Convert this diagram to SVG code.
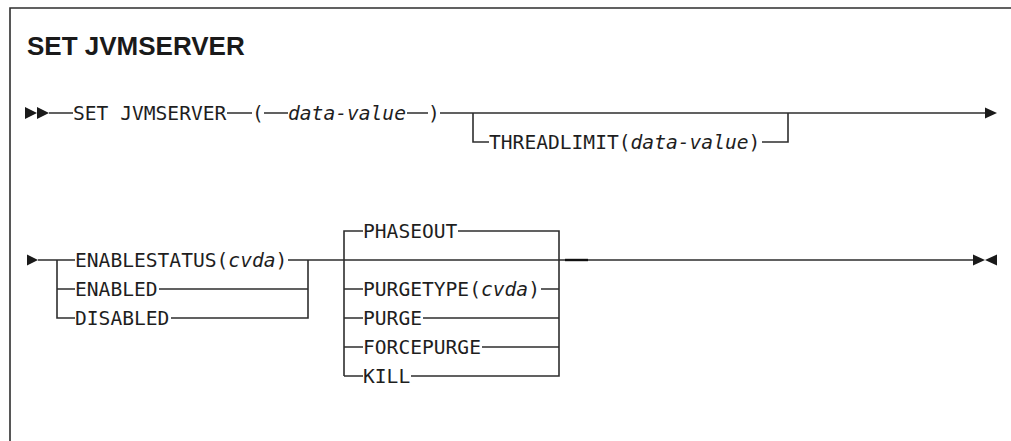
<svg xmlns="http://www.w3.org/2000/svg" width="1011" height="441" viewBox="0 0 1011 441">
<style>
.t{font-family:"DejaVu Sans Mono","Liberation Mono",monospace;font-size:19.6px;fill:#1e1e1e}
.i{font-style:italic}
.ttl{font-family:"Liberation Sans",Arial,sans-serif;font-size:26px;font-weight:bold;fill:#1a1a1a}
.ln{fill:none;stroke:#2e2e2e;stroke-width:1.6}
.ar{fill:#1a1a1a;stroke:none}
</style>
<rect width="1011" height="441" fill="#ffffff"/>
<path class="ln" d="M10,441 V8 H1011"/>
<g id="title"><text class="ttl" x="27" y="55">SET JVMSERVER</text></g>

<g id="connectors">
  <!-- line 1 -->
  <polygon class="ar" points="25,107 37,113 25,119"/>
  <polygon class="ar" points="37,107 49,113 37,119"/>
  <path class="ln" d="M49,113 H73 M227,113 H252 M264,113 H288 M407,113 H428 M440,113 H986"/>
  <polygon class="ar" points="985,107.5 997,113 985,118.5"/>
  <path class="ln" d="M473,113 V142 H489 M762,142 H788 V113"/>
  <!-- line 2 -->
  <polygon class="ar" points="27,254.5 38,260 27,265.5"/>
  <path class="ln" d="M38,260 H75 M57,260 V318 H75 M57,289 H75"/>
  <path class="ln" d="M288,260 H974 M159,289 H308 M171,318 H308 V260"/>
  <path class="ln" d="M344,376 V231 H363 M458,231 H559 V376 H411 M344,289 H363 M344,318 H363 M344,347 H363 M344,376 H363 M541,289 H559 M423,318 H559 M482,347 H559"/>
  <path d="M565,260 H588" stroke="#111" stroke-width="2.4"/>
  <polygon class="ar" points="973,254.5 985,260 973,265.5"/>
  <polygon class="ar" points="997,254.5 985,260 997,265.5"/>
</g>

<g id="cmd"><text class="t" x="73" y="120.2">SET JVMSERVER</text></g>
<g id="lparen"><text class="t" x="252" y="120.2">(</text></g>
<g id="datavalue"><text class="t i" x="288" y="120.2">data-value</text></g>
<g id="rparen"><text class="t" x="428" y="120.2">)</text></g>
<g id="threadlimit"><text class="t" x="489" y="149.2">THREADLIMIT(<tspan class="i">data-value</tspan>)</text></g>

<g id="enablestatus"><text class="t" x="75" y="267.2">ENABLESTATUS(<tspan class="i">cvda</tspan>)</text></g>
<g id="enabled"><text class="t" x="75" y="296.2">ENABLED</text></g>
<g id="disabled"><text class="t" x="75" y="325.2">DISABLED</text></g>

<g id="phaseout"><text class="t" x="363" y="238.2">PHASEOUT</text></g>
<g id="purgetype"><text class="t" x="363" y="296.2">PURGETYPE(<tspan class="i">cvda</tspan>)</text></g>
<g id="purge"><text class="t" x="363" y="325.2">PURGE</text></g>
<g id="forcepurge"><text class="t" x="363" y="354.2">FORCEPURGE</text></g>
<g id="kill"><text class="t" x="363" y="383.2">KILL</text></g>
</svg>
